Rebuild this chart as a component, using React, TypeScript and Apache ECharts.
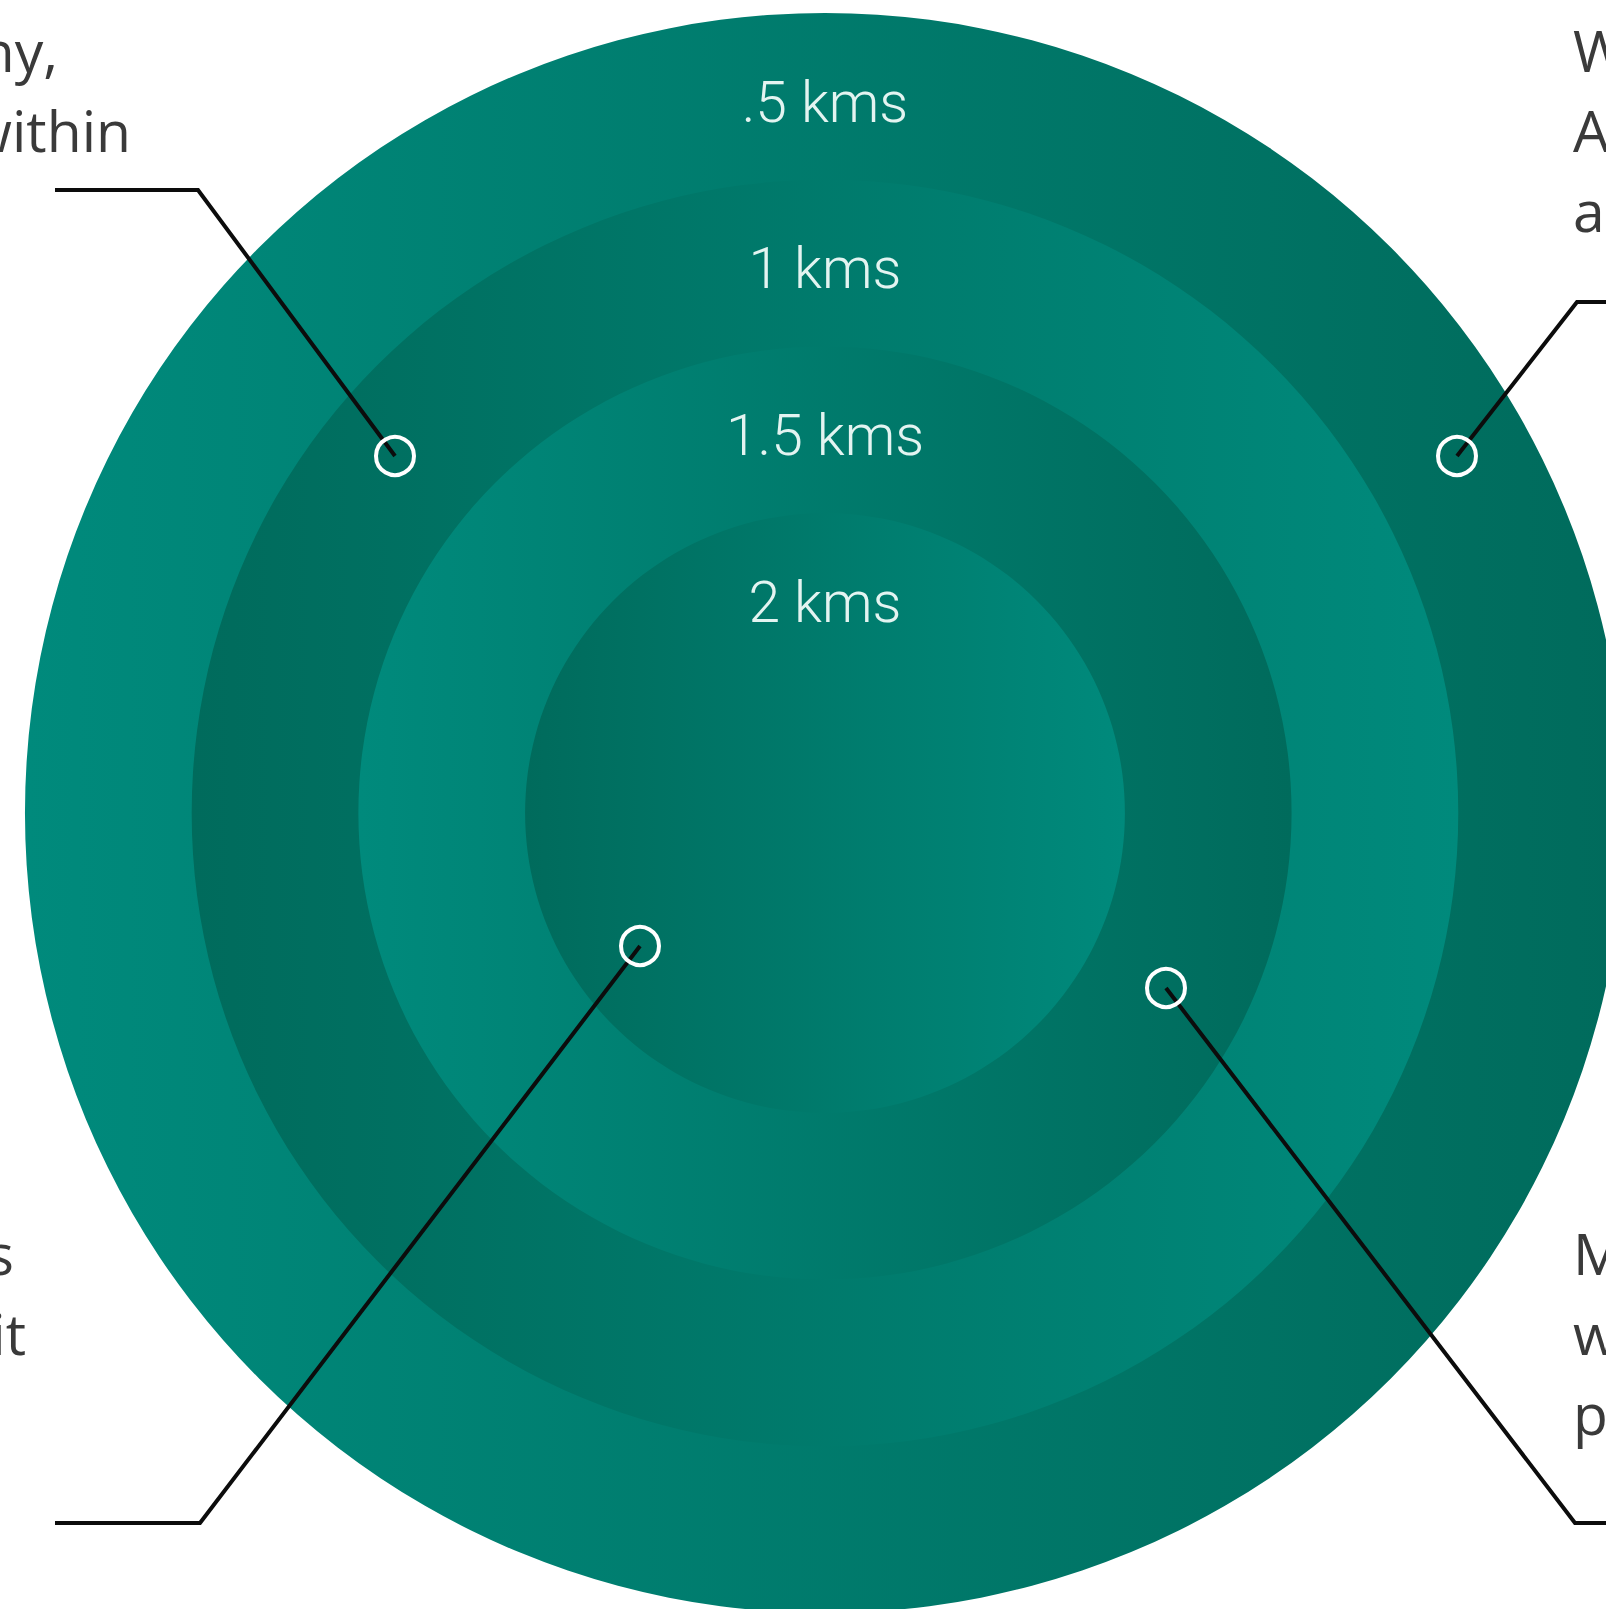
import React, { useEffect, useRef } from "react";
import * as echarts from "echarts";

// ---- data ----
const ringKm = [0.5, 1, 1.5, 2];
const ringLabels = [".5 kms", "1 kms", "1.5 kms", "2 kms"];

// side text fragments (the annotation texts are cropped by the picture's edges)
const topLeftLines = ["ny,", "within"];
const topRightLines = ["W", "A", "a"];
const bottomLeftLines = ["s", "it"];
const bottomRightLines = ["M", "w", "p"];

// ---- layout / style ----
const W = 1606;
const H = 1609;
const CX = 825;
const CY = 813;
const OUTER_R = 800;
const R_PER_HALF_KM = 166.7;
const LIGHT = "#008A7C";
const DARK = "#006B5C";
const LABEL_COLOR = "#E3F4F1";
const TEXT_COLOR = "#3a3a3a";
const LINE_COLOR = "#0c0c0c";

const radiusFor = (km: number) => OUTER_R - ((km - ringKm[0]) / 0.5) * R_PER_HALF_KM;

// callouts: leader line points (outer end -> elbow -> marker)
const callouts = [
  { points: [[55, 190], [198, 190], [395, 456]] },
  { points: [[1610, 302], [1577, 302], [1457, 456]] },
  { points: [[55, 1523], [200, 1523], [640, 946]] },
  { points: [[1610, 1523], [1575, 1523], [1166, 988]] },
];

const SIDE_FONT = 57;
const LINE_H = 80;

export default function App() {
  const ref = useRef<HTMLDivElement>(null);

  useEffect(() => {
    if (!ref.current) return;
    const chart = echarts.init(ref.current, undefined, { renderer: "svg" });

    const series = ringKm.map((km, i) => {
      const r = radiusFor(km);
      const stops =
        i % 2 === 0
          ? [
              { offset: 0, color: LIGHT },
              { offset: 1, color: DARK },
            ]
          : [
              { offset: 0, color: DARK },
              { offset: 1, color: LIGHT },
            ];
      return {
        type: "pie",
        name: ringLabels[i],
        silent: true,
        center: [CX, CY],
        radius: [0, r],
        startAngle: 90,
        z: 2 + i,
        label: { show: false },
        labelLine: { show: false },
        emphasis: { disabled: true },
        itemStyle: {
          borderWidth: 0,
          color: new echarts.graphic.LinearGradient(0, 0, 1, 0, stops),
        },
        data: [{ value: km, name: ringLabels[i] }],
      };
    });

    const elements: any[] = [];

    // ring labels
    ringKm.forEach((km, i) => {
      const top = CY - radiusFor(km);
      elements.push({
        type: "text",
        z: 100,
        silent: true,
        style: {
          text: ringLabels[i],
          x: CX,
          y: top + 89,
          fill: LABEL_COLOR,
          fontSize: 57,
          fontFamily: "Roboto",
          fontWeight: 300,
          align: "center",
          verticalAlign: "middle",
        },
      });
    });

    // leader lines + markers
    callouts.forEach((c) => {
      elements.push({
        type: "polyline",
        z: 100,
        silent: true,
        shape: { points: c.points },
        style: { stroke: LINE_COLOR, lineWidth: 4, fill: null },
      });
      const [mx, my] = c.points[c.points.length - 1];
      elements.push({
        type: "circle",
        z: 101,
        silent: true,
        shape: { cx: mx, cy: my, r: 19 },
        style: { stroke: "#ffffff", lineWidth: 4, fill: "rgba(0,0,0,0)" },
      });
    });

    const sideText = (lines: string[], x: number, firstCenter: number, align: string, ends?: number[]) => {
      lines.forEach((t, i) => {
        elements.push({
          type: "text",
          z: 100,
          silent: true,
          style: {
            text: t,
            x: ends ? ends[i] : x,
            y: firstCenter + i * LINE_H,
            fill: TEXT_COLOR,
            fontSize: SIDE_FONT,
            fontFamily: "Open Sans",
            fontWeight: 400,
            align,
            verticalAlign: "middle",
          },
        });
      });
    };

    sideText(topLeftLines, 0, 50, "right", [58, 131]);
    sideText(topRightLines, 1573, 50, "left");
    sideText(bottomLeftLines, 0, 1253, "right", [14, 26]);
    sideText(bottomRightLines, 1573, 1253, "left");

    chart.setOption({
      animation: false,
      backgroundColor: "#ffffff",
      series,
      graphic: { elements },
    });

    return () => chart.dispose();
  }, []);

  return (
    <div
      ref={ref}
      style={{ position: "fixed", left: 0, top: 0, width: W, height: H, background: "#fff" }}
    />
  );
}
